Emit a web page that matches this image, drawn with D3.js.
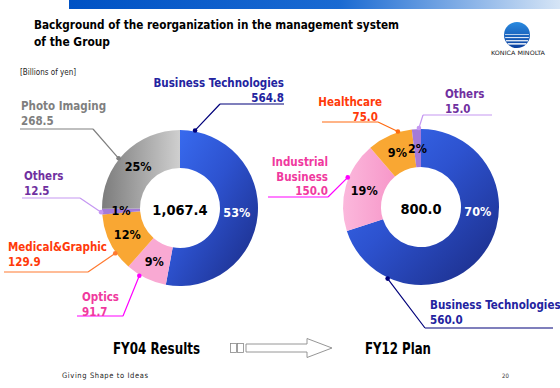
<!DOCTYPE html>
<html>
<head>
<meta charset="utf-8">
<script src="https://cdn.jsdelivr.net/npm/d3@7"></script>
<style>
  body { margin: 0; background: #fff; }
  svg { display: block; }
  text { font-family: "DejaVu Sans Condensed", "DejaVu Sans", sans-serif; }
</style>
</head>
<body>
<svg id="chart"></svg>
<script>
const width = 560, height = 388;

// FY04 results (billions of yen), clockwise from 12 o'clock
const fy04Segments = ["Business Technologies", "Optics", "Medical&Graphic", "Others", "Photo Imaging"];
const fy04Values = [564.8, 91.7, 129.9, 12.5, 268.5];

// FY12 plan
const fy12Segments = ["Business Technologies", "Industrial Business", "Healthcare", "Others"];
const fy12Values = [560.0, 150.0, 75.0, 15.0];

const periodLabels = ["FY04 Results", "FY12 Plan"];

const fills = {
  "Business Technologies": "url(#gBlue)",
  "Optics": "#f9a9d3",
  "Industrial Business": "url(#gPink)",
  "Medical&Graphic": "#f9a733",
  "Healthcare": "#f9a733",
  "Others": "#a47ad8",
  "Photo Imaging": "url(#gGray)"
};
const textColor = {
  "Business Technologies": "#2323a0",
  "Optics": "#f0399e",
  "Industrial Business": "#f0399e",
  "Medical&Graphic": "#ff3a0a",
  "Healthcare": "#ff3a0a",
  "Others": "#7030a0",
  "Photo Imaging": "#7f7f7f"
};
const lineColor = {
  "Business Technologies": "#00007a",
  "Optics": "#ff00ff",
  "Industrial Business": "#ff00ff",
  "Medical&Graphic": "#ff7a30",
  "Healthcare": "#ff6a10",
  "Others": "#c597f2",
  "Photo Imaging": "#808080"
};

const svg = d3.select("#chart").attr("width", width).attr("height", height);
const defs = svg.append("defs");

function grad(id, x2, y2, stops) {
  const g = defs.append("linearGradient").attr("id", id)
    .attr("x1", 0).attr("y1", 0).attr("x2", x2).attr("y2", y2);
  stops.forEach(s => g.append("stop").attr("offset", s[0]).attr("stop-color", s[1]));
}
grad("gBlue", 1, 1, [[0, "#3a6ff5"], [0.45, "#2d52cf"], [1, "#1a2a82"]]);
grad("gGray", 1, 0, [[0, "#7c7c7c"], [1, "#cfcfcf"]]);
grad("gPink", 1, 0, [[0, "#fbb8dc"], [1, "#f797c9"]]);
grad("gBar", 1, 0, [[0, "#0052c4"], [0.55, "#1a6ad2"], [1, "#d6e5f6"]]);
grad("gLogo", 0, 1, [[0, "#2a8be0"], [1, "#0b3f9e"]]);

// top banner
svg.append("rect").attr("x", 69).attr("y", 0).attr("width", width - 69).attr("height", 9)
  .attr("fill", "url(#gBar)");

// title
svg.append("text").attr("x", 34).attr("y", 29).attr("font-weight", "bold").attr("font-size", 12.5)
  .attr("textLength", 365).attr("lengthAdjust", "spacingAndGlyphs")
  .text("Background of the reorganization in the management system");
svg.append("text").attr("x", 34).attr("y", 46).attr("font-weight", "bold").attr("font-size", 12.5)
  .attr("textLength", 76).attr("lengthAdjust", "spacingAndGlyphs")
  .text("of the Group");

// logo
const logo = svg.append("g").attr("transform", "translate(517,35)");
logo.append("circle").attr("r", 13).attr("fill", "url(#gLogo)");
[-1, 2, 5, 8].forEach((dy, i) => {
  const hw = Math.sqrt(Math.max(0, 169 - dy * dy)) - 1;
  logo.append("rect").attr("x", -hw).attr("y", dy).attr("width", hw * 2).attr("height", 0.8 + i * 0.3)
    .attr("fill", "#fff").attr("opacity", 0.85);
});
svg.append("text").attr("x", 518).attr("y", 55).attr("text-anchor", "middle")
  .attr("font-size", 6).attr("fill", "#222").attr("font-family", "DejaVu Sans")
  .attr("textLength", 54).attr("lengthAdjust", "spacingAndGlyphs").text("KONICA MINOLTA");

svg.append("text").attr("x", 20).attr("y", 75).attr("font-size", 8).attr("fill", "#222")
  .attr("font-family", "DejaVu Sans").text("[Billions of yen]");

const outerR = 78, innerR = 40;
const pie = d3.pie().sort(null).value(d => d.value);
const arc = d3.arc().innerRadius(innerR).outerRadius(outerR);
const fmtPct = v => Math.round(v * 100) + "%";

// label layout: text lines, anchor, underline [x1,x2,y], joint x, dot angle (deg)
const layout04 = {
  "Business Technologies": { x: 284, y: 87, anchor: "end", ul: [220, 284, 104], jx: 220, deg: 11 },
  "Photo Imaging": { x: 21, y: 110, anchor: "start", ul: [20, 93, 129], jx: 93, deg: 309 },
  "Others": { x: 24, y: 180, anchor: "start", ul: [22, 80, 198], jx: 80, deg: 267 },
  "Medical&Graphic": { x: 8, y: 251, anchor: "start", ul: [4, 88, 272], jx: 88, deg: 235 },
  "Optics": { x: 82, y: 301, anchor: "start", ul: [77, 123, 316], jx: 123, deg: 211 }
};
const layout12 = {
  "Business Technologies": { x: 430, y: 309, anchor: "start", ul: [425, 553, 328], jx: 425, deg: 205 },
  "Industrial Business": { x: 328, y: 166, anchor: "end", ul: [268, 328, 197], jx: 328, deg: 292, lines: ["Industrial", "Business"] },
  "Healthcare": { x: 382, y: 106, anchor: "end", ul: [322, 378, 122], jx: 378, deg: 343, valueX: 378 },
  "Others": { x: 445, y: 98, anchor: "start", ul: [423, 492, 115], jx: 423, deg: 358.5 }
};

function donut(cx, cy, names, values, layout) {
  const data = names.map((n, i) => ({ name: n, value: values[i] }));
  const total = d3.sum(values);
  const arcs = pie(data);
  const g = svg.append("g").attr("transform", `translate(${cx},${cy})`);

  g.selectAll("path.slice").data(arcs).join("path").attr("class", "slice")
    .attr("d", arc).attr("fill", d => fills[d.data.name]);

  // percent labels; the largest slice gets its label on the right side
  const maxV = d3.max(values);
  g.selectAll("text.pct").data(arcs).join("text").attr("class", "pct")
    .attr("transform", d => {
      if (d.data.value === maxV) {
        const a = 95 * Math.PI / 180, r = 57;
        return `translate(${r * Math.sin(a)},${-r * Math.cos(a)})`;
      }
      const c = arc.centroid(d);
      return `translate(${c[0]},${c[1]})`;
    })
    .attr("text-anchor", "middle").attr("dy", "0.36em")
    .attr("font-weight", "bold").attr("font-size", 12.5)
    .attr("fill", d => d.data.value === maxV ? "#fff" : "#000")
    .text(d => fmtPct(d.data.value / total));

  g.append("text").attr("text-anchor", "middle").attr("dy", "0.36em").attr("y", 2)
    .attr("font-weight", "bold").attr("font-size", 14.5).attr("fill", "#000")
    .text(d3.format(",.1f")(total));

  // callouts
  arcs.forEach(d => {
    const L = layout[d.data.name];
    const a = L.deg * Math.PI / 180, rr = outerR + 1;
    const dx = cx + rr * Math.sin(a), dy = cy - rr * Math.cos(a);
    const col = lineColor[d.data.name];
    svg.append("path")
      .attr("d", d3.line()([[L.ul[0], L.ul[2]], [L.ul[1], L.ul[2]]]) +
        d3.line()([[L.jx, L.ul[2]], [dx, dy]]))
      .attr("fill", "none").attr("stroke", col).attr("stroke-width", 1.2);
    svg.append("circle").attr("cx", dx).attr("cy", dy).attr("r", 2.3).attr("fill", col);
    const lines = (L.lines || [d.data.name]).concat([d.data.value.toFixed(1)]);
    const t = svg.append("text").attr("text-anchor", L.anchor)
      .attr("font-weight", "bold").attr("font-size", 11.5).attr("fill", textColor[d.data.name]);
    lines.forEach((s, i) => {
      const isVal = i === lines.length - 1;
      t.append("tspan").attr("x", isVal && L.valueX ? L.valueX : L.x)
        .attr("y", L.y + i * 14.5).text(s);
    });
  });
}

donut(180, 208, fy04Segments, fy04Values, layout04);
donut(421, 207, fy12Segments, fy12Values, layout12);

// period captions
svg.append("text").attr("x", 113).attr("y", 354)
  .attr("font-weight", "bold").attr("font-size", 15)
  .attr("textLength", 87).attr("lengthAdjust", "spacingAndGlyphs").text(periodLabels[0]);
svg.append("text").attr("x", 365).attr("y", 354)
  .attr("font-weight", "bold").attr("font-size", 15)
  .attr("textLength", 66).attr("lengthAdjust", "spacingAndGlyphs").text(periodLabels[1]);

// arrow
svg.append("rect").attr("x", 230.5).attr("y", 343.5).attr("width", 6).attr("height", 9)
  .attr("fill", "none").attr("stroke", "#888").attr("stroke-width", 0.8);
svg.append("rect").attr("x", 237.5).attr("y", 343.5).attr("width", 6).attr("height", 9)
  .attr("fill", "none").attr("stroke", "#888").attr("stroke-width", 0.8);
svg.append("path")
  .attr("d", "M246,344 L307,344 L307,338.5 L332,348 L307,357.5 L307,352 L246,352 Z")
  .attr("fill", "#fff").attr("stroke", "#8a8a8a").attr("stroke-width", 0.9);

// footer
svg.append("text").attr("x", 62).attr("y", 378).attr("font-size", 7.5)
  .attr("font-family", "DejaVu Serif, Liberation Serif, serif").attr("letter-spacing", 0.6)
  .attr("fill", "#222").text("Giving Shape to Ideas");
svg.append("text").attr("x", 502).attr("y", 378).attr("font-size", 6)
  .attr("font-family", "Liberation Serif, serif").attr("fill", "#333").text("20");
</script>
</body>
</html>
